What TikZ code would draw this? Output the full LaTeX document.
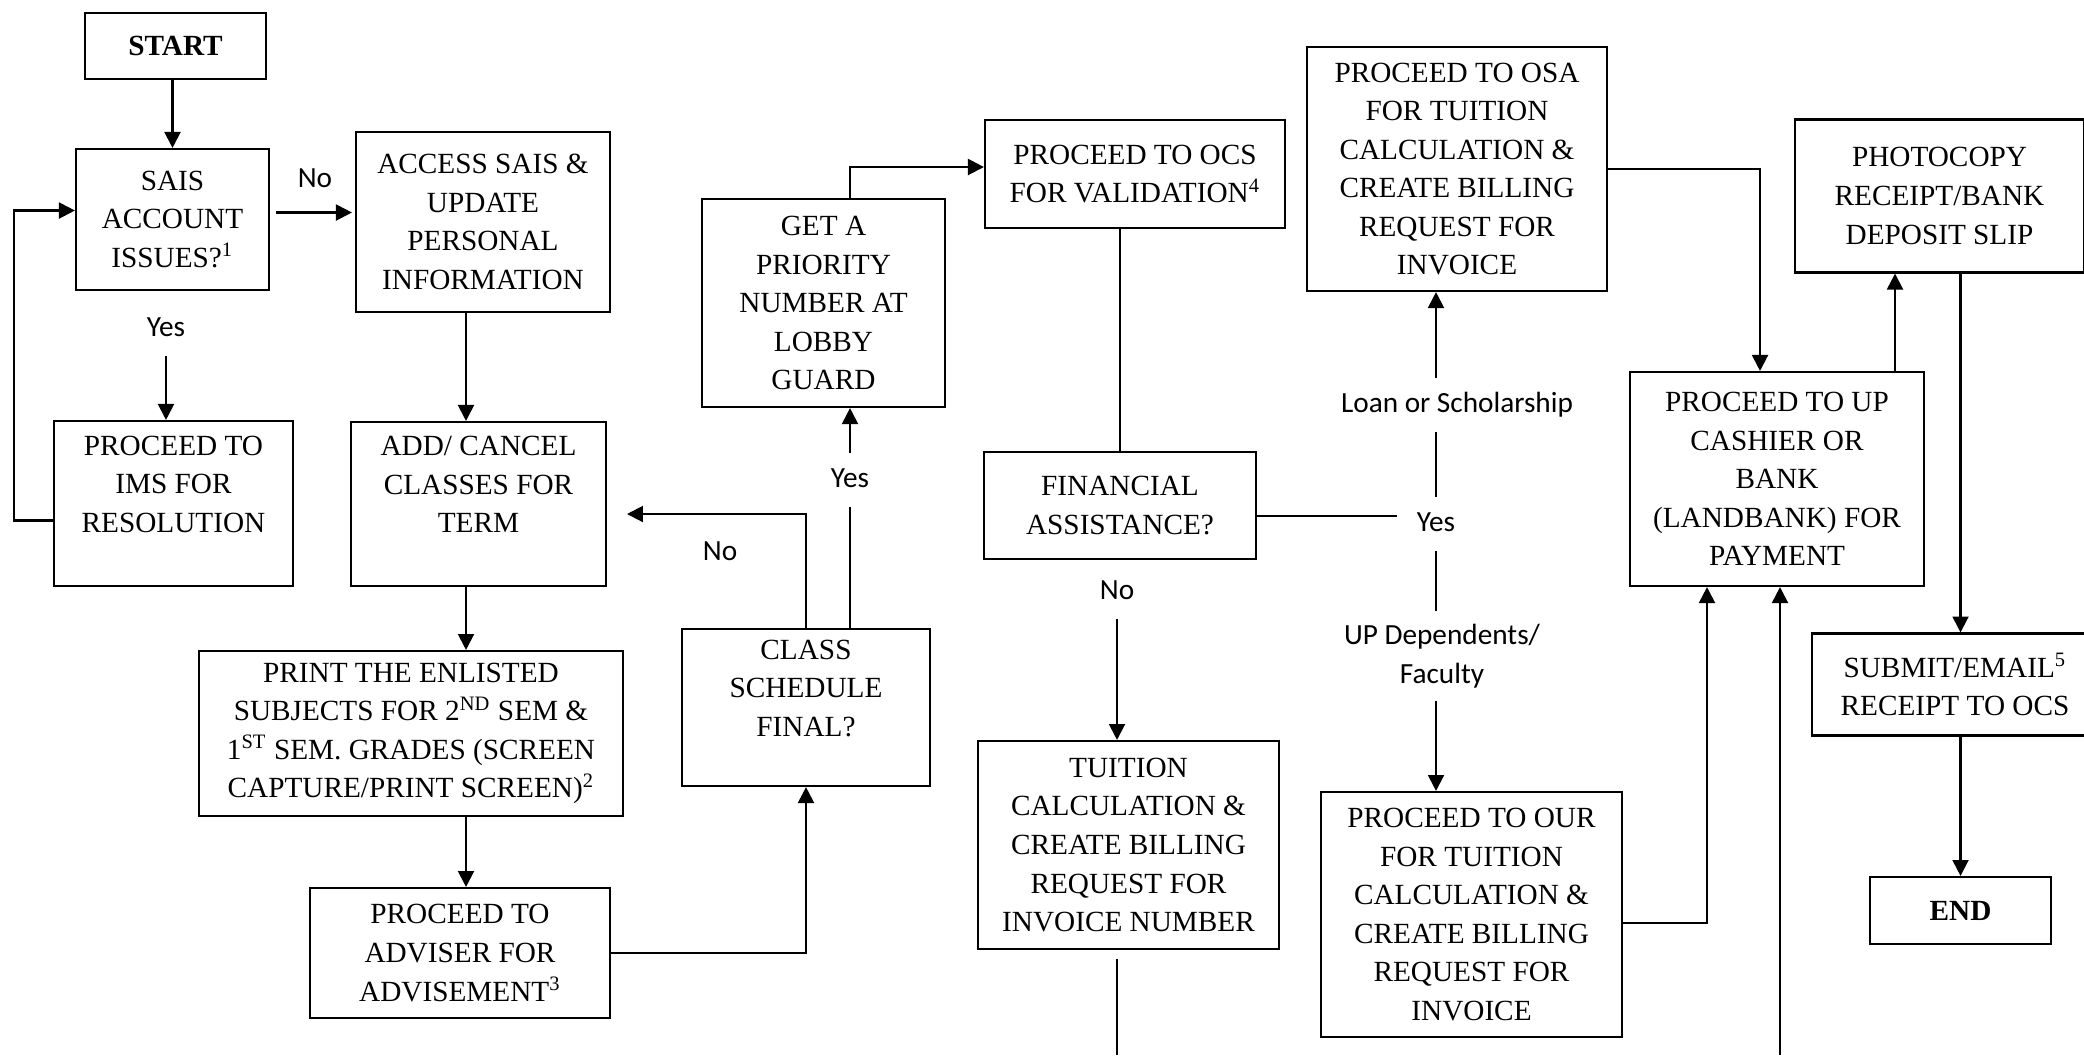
\documentclass[tikz,border=0pt]{standalone}
\usepackage{fontspec}
\setmainfont{Liberation Serif}
\newfontfamily\lblfont{Carlito}
\usetikzlibrary{arrows.meta}

\tikzset{
  flowbox/.style 2 args={draw, align=center, inner sep=0pt,
    minimum width=#1*0.376pt, minimum height=#2*0.376pt,
    font=\fontsize{11}{14.5}\selectfont},
  lbl/.style={font=\lblfont\fontsize{11}{14.5}\selectfont, inner xsep=3pt,
    inner ysep=4.5pt, text height=8pt, text depth=2.5pt},
  lbltwo/.style={font=\lblfont\fontsize{11}{14.5}\selectfont, align=center,
    inner xsep=3pt, inner ysep=4.5pt},
  arr/.style={-{Triangle[width=6pt,length=6pt]}},
}

\begin{document}
\begin{tikzpicture}[x=0.376pt, y=-0.376pt, line width=0.8pt]
    \useasboundingbox (0,0) rectangle (2084,1055);

    % Boxes, left part
    \node[flowbox={181}{66}] (start) at (175.5,46) {\textbf{START}};
    \node[flowbox={193}{141}] (sais) at (172.5,219.5) {SAIS\\ACCOUNT\\ISSUES?\textsuperscript{1}};
    \node[flowbox={254}{180}] (access) at (483,222) {ACCESS SAIS \&\\UPDATE\\PERSONAL\\INFORMATION};
    \node[flowbox={239}{165}] (ims) at (173.5,503.5) {PROCEED TO\\IMS FOR\\RESOLUTION\\ \mbox{}};
    \node[flowbox={255}{164}] (add) at (478.5,504) {ADD/ CANCEL\\CLASSES FOR\\TERM\\ \mbox{}};
    \node[flowbox={424}{165}] (print) at (411,733.5) {PRINT THE ENLISTED\\SUBJECTS FOR 2\textsuperscript{ND} SEM \&\\1\textsuperscript{ST} SEM. GRADES (SCREEN\\CAPTURE/PRINT SCREEN)\textsuperscript{2}};
    \node[flowbox={300}{130}] (advise) at (460,953) {PROCEED TO\\ADVISER FOR\\ADVISEMENT\textsuperscript{3}};
    \node[flowbox={248}{157}] (class) at (806,707.5) {CLASS\\SCHEDULE\\FINAL?\\ \mbox{}};
    \node[flowbox={243}{208}] (get) at (823.5,303) {GET A\\PRIORITY\\NUMBER AT\\LOBBY\\GUARD};

    % Boxes, middle part
    \node[flowbox={300}{108}] (ocs) at (1135,174) {PROCEED TO OCS\\FOR VALIDATION\textsuperscript{4}};
    \node[flowbox={272}{107}] (fin) at (1120,505.5) {FINANCIAL\\ASSISTANCE?};
    \node[flowbox={301}{208}] (tuition) at (1128.5,845) {TUITION\\CALCULATION \&\\CREATE BILLING\\REQUEST FOR\\INVOICE NUMBER};
    \node[flowbox={300}{244}] (osa) at (1457,169) {PROCEED TO OSA\\FOR TUITION\\CALCULATION \&\\CREATE BILLING\\REQUEST FOR\\INVOICE};
    \node[flowbox={301}{245}] (our) at (1471.5,914.5) {PROCEED TO OUR\\FOR TUITION\\CALCULATION \&\\CREATE BILLING\\REQUEST FOR\\INVOICE};

    % Boxes, right part
    \node[flowbox={294}{214}] (up) at (1777,479) {PROCEED TO UP\\CASHIER OR\\BANK\\(LANDBANK) FOR\\PAYMENT};
    \node[flowbox={289}{153}] (photo) at (1939.5,196) {PHOTOCOPY\\RECEIPT/BANK\\DEPOSIT SLIP};
    \node[flowbox={286}{102}] (submit) at (1955,684.5) {SUBMIT/EMAIL\textsuperscript{5}\\RECEIPT TO OCS};
    \node[flowbox={181}{67}] (finish) at (1960.5,910.5) {\textbf{END}};

    % Labels
    \node[lbl] (no1) at (315,180) {No};
    \node[lbl] (yes1) at (166,329) {Yes};
    \node[lbl] (yes2) at (850,480) {Yes};
    \node[lbl] (no2) at (720,553) {No};
    \node[lbl] (no3) at (1117,592) {No};
    \node[lbl] (yes3) at (1436,524) {Yes};
    \node[lbl] (loan) at (1457,405) {Loan or Scholarship};
    \node[lbltwo] (updep) at (1442,656) {UP Dependents/\\Faculty};

    % Free ends
    \coordinate (noend) at (627,514);
    \coordinate (tuitout) at (1117,1055);
    \coordinate (upin) at (1780,1055);

    % Left column
    \draw[arr] (start.south -| sais.north) -- (sais.north);
    \draw[arr] ([shift={(6,-7)}]sais.east) -- ([shift={(-3,-7)}]sais.east -| access.west);
    \draw[arr] (yes1) -- (yes1 |- ims.north);
    \draw[arr] ([shift={(0,17)}]ims.west) -- ++(-39,0) |- ([shift={(0,-9)}]sais.west);
    \draw[arr] ([shift={(-17,0)}]access.south) -- ([shift={(-17,0)}]access.south |- add.north);
    \draw[arr] ([shift={(-12.5,0)}]add.south) -- ([shift={(-12.5,0)}]add.south |- print.north);
    \draw[arr] ([shift={(55,0)}]print.south) -- ([shift={(55,0)}]print.south |- advise.north);

    % Class schedule loop
    \draw[arr] (advise.east) -| (class.south);
    \draw[arr] (class.north) |- (noend);
    \draw (yes2.south |- class.north) -- (yes2);
    \draw[arr] (yes2) -- (yes2 |- get.south);
    \draw[arr] ([shift={(26.5,0)}]get.north) |- ([shift={(0,-7)}]ocs.west);

    % Financial assistance
    \draw (ocs.south -| fin.north) -- (fin.north);
    \draw[arr] (no3) -- (no3 |- tuition.north);
    \draw[shorten <=3.4pt] (tuition.south -| tuitout) -- (tuitout);
    \draw ([shift={(0,10.5)}]fin.east) -- ([shift={(-11,10.5)}]fin.east -| yes3.west);
    \draw (yes3) -- (yes3 |- loan.south);
    \draw[arr] (loan.north -| yes3) -- (yes3 |- osa.south);
    \draw (yes3) -- (yes3 |- updep.north);
    \draw[arr] (updep.south -| yes3) -- (yes3 |- our.north);

    % Payment
    \draw[arr] (osa.east) -| ([shift={(-17,0)}]up.north);
    \draw[arr] ([shift={(0,8.5)}]our.east) -| ([shift={(-70,0)}]up.south);
    \draw[arr] (upin) -- (upin |- up.south);
    \draw[arr] ([shift={(118,0)}]up.north) -- ([shift={(118,0)}]up.north |- photo.south);
    \draw[arr] (photo.south -| finish.north) -- (finish.north |- submit.north);
    \draw[arr] (submit.south -| finish.north) -- (finish.north);
\end{tikzpicture}
\end{document}
